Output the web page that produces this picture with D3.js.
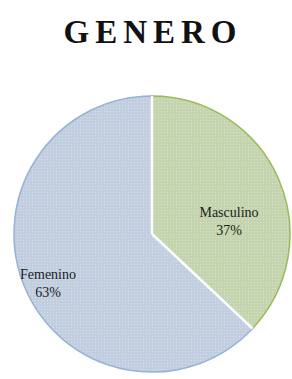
<!DOCTYPE html>
<html>
<head>
<meta charset="utf-8">
<script src="https://cdn.jsdelivr.net/npm/d3@7"></script>
<style>
  body { margin: 0; background: #fff; }
  svg { display: block; }
</style>
</head>
<body>
<svg id="canvas"></svg>
<script>
let title = "GENERO";
let categories = ["Masculino", "Femenino"];
let values = [37, 63];
let fills = ["#c4d4ae", "#c0cee0"];
let strokes = ["#9bbb59", "#95b3d7"];

let width = 292,
  height = 379;
let cx = 152,
  cy = 234,
  radius = 138;

let serif = "'Liberation Serif', 'Times New Roman', Times, serif";

let canvas = d3.select("#canvas").attr("width", width).attr("height", height);

// dotted pattern fill, like the Excel one
let defs = canvas.append("defs");
categories.forEach((c, i) => {
  let p = defs
    .append("pattern")
    .attr("id", "pat" + i)
    .attr("width", 3)
    .attr("height", 3)
    .attr("patternUnits", "userSpaceOnUse");
  p.append("rect").attr("width", 3).attr("height", 3).attr("fill", fills[i]);
  p.append("rect")
    .attr("width", 1)
    .attr("height", 1)
    .attr("fill", "#ffffff")
    .attr("opacity", 0.35);
});

canvas
  .append("text")
  .attr("x", 153)
  .attr("y", 43)
  .attr("text-anchor", "middle")
  .attr("font-family", serif)
  .attr("font-weight", "bold")
  .attr("font-size", 33)
  .attr("letter-spacing", 6)
  .attr("fill", "#111")
  .text(title);

let pie = d3.pie().sort(null).value((d) => d);
let arcs = pie(values);
let arc = d3.arc().innerRadius(0).outerRadius(radius);

let g = canvas.append("g").attr("transform", "translate(" + cx + "," + cy + ")");

g.selectAll("path.slice")
  .data(arcs)
  .enter()
  .append("path")
  .attr("class", "slice")
  .attr("d", arc)
  .attr("fill", (d, i) => "url(#pat" + i + ")")
  .attr("stroke", (d, i) => strokes[i])
  .attr("stroke-width", 1.5);

// white separators between slices
g.selectAll("line.sep")
  .data(arcs)
  .enter()
  .append("line")
  .attr("class", "sep")
  .attr("x1", 0)
  .attr("y1", 0)
  .attr("x2", (d) => Math.sin(d.startAngle) * radius)
  .attr("y2", (d) => -Math.cos(d.startAngle) * radius)
  .attr("stroke", "#fff")
  .attr("stroke-width", 2.5);

let labelPos = [
  [77, -17],
  [-104, 45],
];

let labels = g
  .selectAll("text.lbl")
  .data(arcs)
  .enter()
  .append("text")
  .attr("class", "lbl")
  .attr("text-anchor", "middle")
  .attr("font-family", serif)
  .attr("font-size", 14)
  .attr("fill", "#222")
  .attr("transform", (d, i) => "translate(" + labelPos[i][0] + "," + labelPos[i][1] + ")");

labels.append("tspan").attr("x", 0).attr("dy", 0).text((d, i) => categories[i]);
labels
  .append("tspan")
  .attr("x", 0)
  .attr("dy", 18)
  .text((d) => d.value + "%");
</script>
</body>
</html>
